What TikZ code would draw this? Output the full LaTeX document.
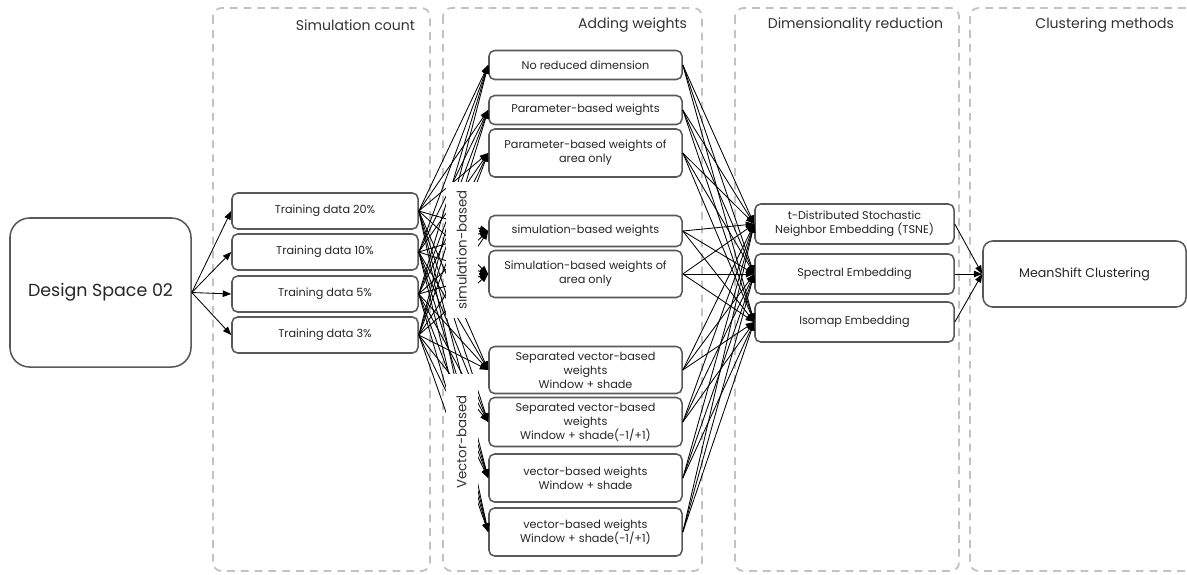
\documentclass[tikz,border=0pt]{standalone}
\usepackage{fontspec}
\setmainfont{Poppins}
\usetikzlibrary{arrows.meta}
\definecolor{framegray}{gray}{0.76}
\definecolor{boxgray}{gray}{0.35}

\begin{document}
\begin{tikzpicture}[x=0.025cm, y=-0.025cm,
    frame/.style = {draw=framegray, line width=1.3pt, dash pattern=on 5.5pt off 4.3pt, rounded corners=6pt},
    box/.style = {draw=boxgray, line width=1.1pt, rounded corners=4pt, fill=white, align=center, text=black!85, inner sep=1pt, font=\fontsize{8}{10}\selectfont},
    link/.style = {-{Triangle[length=6pt,width=4.6pt]}, line width=0.6pt},
    title/.style = {anchor=east, text=black!80, font=\fontsize{10}{12}\selectfont},
    group/.style = {rotate=90, fill=white, text=black!80, minimum width=3.375cm, minimum height=0.8cm, font=\fontsize{9.5}{11}\selectfont}
  ]
  \useasboundingbox (0,0) rectangle (1187,574);
  % columns
  \path[frame] (213,8) rectangle (430,571);
  \path[frame] (443,8) rectangle (702,571);
  \path[frame] (735,8) rectangle (959,571);
  \path[frame] (970,8) rectangle (1200,571);
  \node[title] (simcount) at (420,25) {Simulation count};
  \node[title] (addw) at (692,25) {Adding weights};
  \node[title] (dimred) at (948,25) {Dimensionality reduction};
  \node[title] (clust) at (1179,25) {Clustering methods};
  % design space
  \node[box, minimum width=4.525cm, minimum height=3.725cm, rounded corners=14pt, font=\fontsize{12.4}{14}\selectfont] (ds) at (100.5,292.5) {Design Space 02};
  % simulation count
  \node[box, minimum width=4.65cm, minimum height=0.9cm] (tr1) at (325,211) {Training data 20\%};
  \node[box, minimum width=4.65cm, minimum height=0.9cm] (tr2) at (325,252) {Training data 10\%};
  \node[box, minimum width=4.65cm, minimum height=0.9cm] (tr3) at (325,294) {Training data 5\%};
  \node[box, minimum width=4.65cm, minimum height=0.9cm] (tr4) at (325,335) {Training data 3\%};
  % weights
  \node[box, minimum width=4.825cm, minimum height=0.725cm] (w1) at (585.5,65) {No reduced dimension};
  \node[box, minimum width=4.825cm, minimum height=0.725cm] (w2) at (585.5,110) {Parameter-based weights};
  \node[box, minimum width=4.825cm, minimum height=1.2cm] (w3) at (585.5,153) {Parameter-based weights of\\area only};
  \node[box, minimum width=4.825cm, minimum height=0.775cm] (w4) at (585.5,231) {simulation-based weights};
  \node[box, minimum width=4.825cm, minimum height=1.175cm] (w5) at (585.5,274) {Simulation-based weights of\\area only};
  \node[box, minimum width=4.825cm, minimum height=1.175cm] (w6) at (585.5,370) {Separated vector-based\\weights\\Window + shade};
  \node[box, minimum width=4.825cm, minimum height=1.225cm] (w7) at (585.5,422) {Separated vector-based\\weights\\Window + shade(-1/+1)};
  \node[box, minimum width=4.825cm, minimum height=1.2cm] (w8) at (585.5,478) {vector-based weights\\Window + shade};
  \node[box, minimum width=4.825cm, minimum height=1.2cm] (w9) at (585.5,532) {vector-based weights\\Window + shade(-1/+1)};
  % dimensionality reduction
  \node[box, minimum width=4.975cm, minimum height=1cm] (d1) at (854.5,224) {t-Distributed Stochastic\\Neighbor Embedding (TSNE)};
  \node[box, minimum width=4.975cm, minimum height=1cm] (d2) at (854.5,274) {Spectral Embedding};
  \node[box, minimum width=4.975cm, minimum height=1cm] (d3) at (854.5,322) {Isomap Embedding};
  % clustering
  \node[box, minimum width=5.075cm, minimum height=1.65cm, rounded corners=7pt, font=\fontsize{9}{11}\selectfont] (ms) at (1084.5,274) {MeanShift Clustering};
  % connectors
  \foreach \t in {1,...,4} {
    \path[draw, link] (ds.east) to (tr\t.west);
    \foreach \w in {1,...,9}
      \path[draw, link] (tr\t.east) to (w\w.west);
  }
  \foreach \w in {1,...,9}
    \foreach \d in {1,2,3}
      \path[draw, link] (w\w.east) to (d\d.west);
  \foreach \d in {1,2,3}
    \path[draw, link] (d\d.east) to (ms.west);
  % group labels
  \node[group] (simgrp) at (461.5,250) {simulation-based};
  \node[group] (vecgrp) at (461.5,442) {Vector-based};
\end{tikzpicture}
\end{document}
